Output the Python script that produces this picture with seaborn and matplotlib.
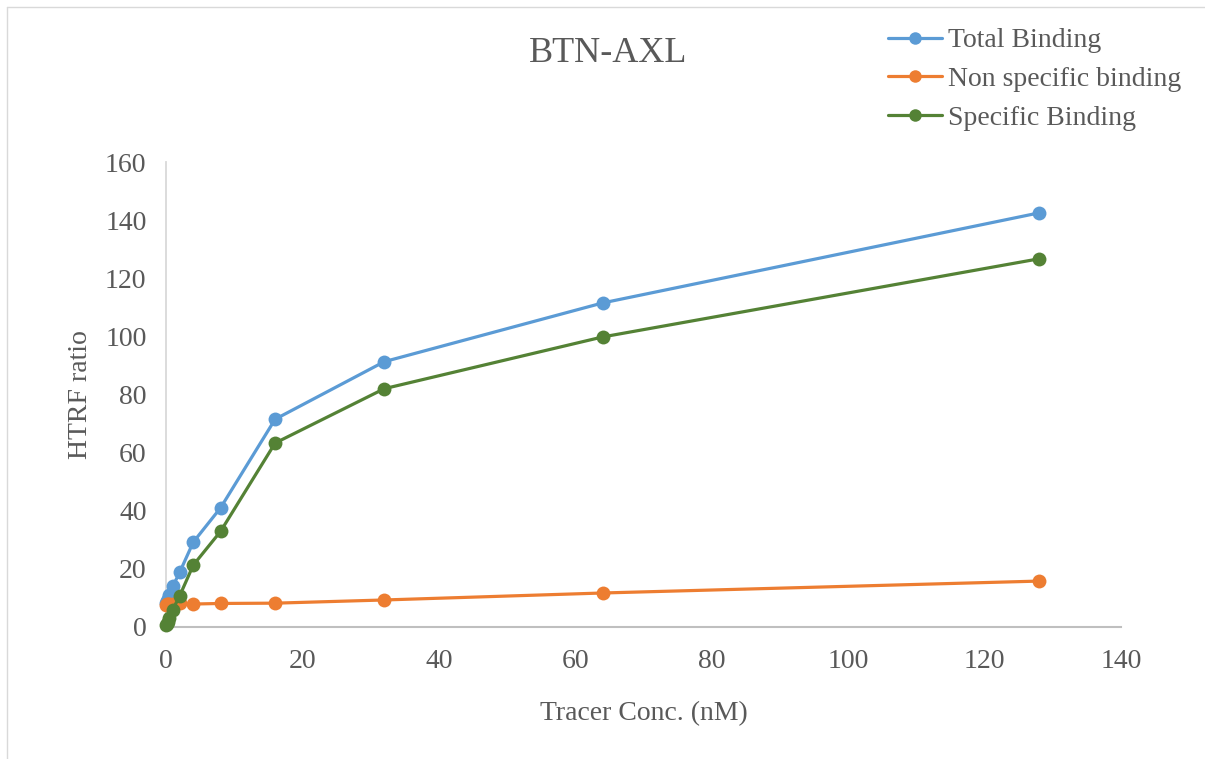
import pandas as pd
import matplotlib.pyplot as plt
import seaborn as sns
from matplotlib.lines import Line2D

# tracer concentrations (nM) and HTRF ratios
conc = [0.0625, 0.125, 0.25, 0.5, 1, 2, 4, 8, 16, 32, 64, 128]
total_binding = [8.3, 9.0, 9.8, 11.0, 14.0, 18.8, 29.2, 41.0, 71.5, 91.3, 111.5, 142.5]
nonspecific_binding = [7.6, 7.8, 8.0, 8.0, 8.0, 8.1, 7.9, 8.1, 8.2, 9.3, 11.7, 15.8]
specific_binding = [0.6, 1.1, 1.8, 3.0, 6.0, 10.7, 21.3, 32.9, 63.3, 82.0, 99.8, 126.7]

series_names = ["Total Binding", "Non specific binding", "Specific Binding"]
colors = ["#5B9BD5", "#ED7D31", "#548235"]

df = pd.DataFrame({
    "conc": conc * 3,
    "ratio": total_binding + nonspecific_binding + specific_binding,
    "series": [series_names[0]] * len(conc) + [series_names[1]] * len(conc) + [series_names[2]] * len(conc),
})

sns.set_style("white")
plt.rcParams["font.family"] = ["Liberation Serif", "DejaVu Serif"]
text_col = "#595959"

fig = plt.figure(figsize=(12.05, 7.59), dpi=100)
ax = fig.add_axes([166 / 1205, 1 - 627 / 759, (1121 - 166) / 1205, (627 - 162) / 759])

for name, col in zip(series_names, colors):
    sub = df[df["series"] == name]
    sns.lineplot(data=sub, x="conc", y="ratio", ax=ax, color=col, linewidth=2.3,
                 marker="o", markersize=10, markeredgewidth=0, legend=False,
                 clip_on=False, zorder=3)

ax.set_xlim(0, 140)
ax.set_ylim(0, 160)
ax.set_xticks(range(0, 141, 20))
ax.set_yticks(range(0, 161, 20))
ax.tick_params(axis="both", length=0, labelsize=20, colors=text_col, pad=14)
ax.tick_params(axis="x", pad=16)
ax.set_xlabel("Tracer Conc. (nM)", fontsize=20, color=text_col, labelpad=19)
ax.set_ylabel("HTRF ratio", fontsize=20, color=text_col, labelpad=9)

for s in ["top", "right"]:
    ax.spines[s].set_visible(False)
ax.spines["left"].set_color("#D9D9D9")
ax.spines["bottom"].set_color("#BFBFBF")
ax.spines["left"].set_linewidth(1.3)
ax.spines["bottom"].set_linewidth(1.5)

fig.text(608 / 1205, 1 - 54 / 759, "BTN-AXL", ha="center", va="center",
         fontsize=26, color=text_col)

handles = [Line2D([], [], color=c, linewidth=2.3, marker="o", markersize=9, markeredgewidth=0)
           for c in colors]
leg = fig.legend(handles, series_names, loc="upper left",
                 bbox_to_anchor=(888 / 1205, 1 - 28 / 759), frameon=False,
                 fontsize=20, borderpad=0, borderaxespad=0, labelspacing=0.48,
                 handlelength=1.95, handletextpad=0.2)
for t in leg.get_texts():
    t.set_color(text_col)

# light chart-area border on the left and top
fig.add_artist(Line2D([7 / 1205, 7 / 1205], [0, 1 - 7 / 759], transform=fig.transFigure,
                      color="#D9D9D9", linewidth=1))
fig.add_artist(Line2D([7 / 1205, 1], [1 - 7 / 759, 1 - 7 / 759], transform=fig.transFigure,
                      color="#D9D9D9", linewidth=1))

fig.savefig("out.png", dpi=100)
